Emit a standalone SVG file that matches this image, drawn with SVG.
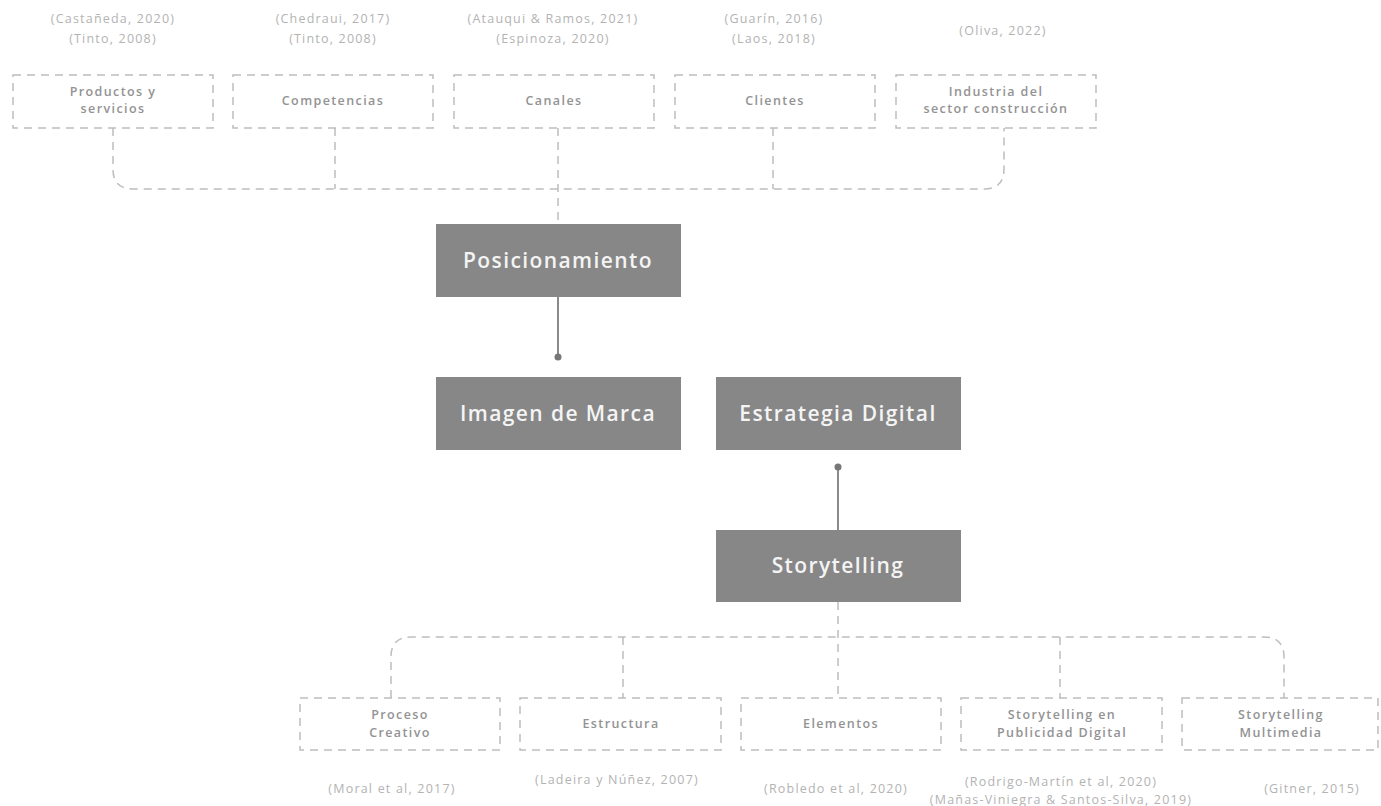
<svg xmlns="http://www.w3.org/2000/svg" width="1381" height="806" viewBox="0 0 1381 806">
<style>
.cite{font-family:"Open Sans","Liberation Sans",sans-serif;font-size:12.5px;fill:#b3b3b3;text-anchor:middle;letter-spacing:1.2px}
.dbox{fill:#fff;stroke:#bdbdbd;stroke-width:1.5;stroke-dasharray:8 6}
.dlab{font-family:"Open Sans","Liberation Sans",sans-serif;font-size:12.5px;fill:#939393;text-anchor:middle;font-weight:600;letter-spacing:1.4px}
.sbox{fill:#878787}
.slab{font-family:"Open Sans","Liberation Sans",sans-serif;font-size:21px;fill:#f4f4f4;text-anchor:middle;font-weight:600;letter-spacing:1.4px}
.dash{fill:none;stroke:#bdbdbd;stroke-width:1.5;stroke-dasharray:8 6}
.solid{fill:none;stroke:#8a8a8a;stroke-width:2}
.dot{fill:#777}
</style>
<rect width="1381" height="806" fill="#fff"/>
<g id="connectors">
<path class="dash" d="M113,128 V169 Q113,189 133,189 H984 Q1004,189 1004,169 V128"/>
<path class="dash" d="M335,128 V189"/>
<path class="dash" d="M558,128 V224"/>
<path class="dash" d="M773,128 V189"/>
<path class="solid" d="M558,297 V357"/>
<circle class="dot" cx="558" cy="357" r="3.5"/>
<path class="solid" d="M838,467 V530"/>
<circle class="dot" cx="838" cy="467" r="3.5"/>
<path class="dash" d="M391,698 V657 Q391,637 411,637 H1264 Q1284,637 1284,657 V698"/>
<path class="dash" d="M623,637 V698"/>
<path class="dash" d="M838,602 V698"/>
<path class="dash" d="M1060,637 V698"/>
</g>
<g id="cite-top">
<text class="cite" x="113" y="23">(Castañeda, 2020)</text>
<text class="cite" x="113" y="43">(Tinto, 2008)</text>
<text class="cite" x="333" y="23">(Chedraui, 2017)</text>
<text class="cite" x="333" y="43">(Tinto, 2008)</text>
<text class="cite" x="553" y="23">(Atauqui &amp; Ramos, 2021)</text>
<text class="cite" x="553" y="43">(Espinoza, 2020)</text>
<text class="cite" x="774" y="23">(Guarín, 2016)</text>
<text class="cite" x="774" y="43">(Laos, 2018)</text>
<text class="cite" x="1003" y="35">(Oliva, 2022)</text>
</g>
<g id="n-productos"><rect class="dbox" x="13" y="75" width="200" height="53"/><text class="dlab" x="113" y="96">Productos y</text><text class="dlab" x="113" y="113">servicios</text></g>
<g id="n-competencias"><rect class="dbox" x="233" y="75" width="200" height="53"/><text class="dlab" x="333" y="105">Competencias</text></g>
<g id="n-canales"><rect class="dbox" x="454" y="75" width="200" height="53"/><text class="dlab" x="554" y="105">Canales</text></g>
<g id="n-clientes"><rect class="dbox" x="675" y="75" width="200" height="53"/><text class="dlab" x="775" y="105">Clientes</text></g>
<g id="n-industria"><rect class="dbox" x="896" y="75" width="200" height="53"/><text class="dlab" x="996" y="96">Industria del</text><text class="dlab" x="996" y="113">sector construcción</text></g>
<g id="n-posicionamiento"><rect class="sbox" x="436" y="224" width="245" height="73"/><text class="slab" x="558" y="268">Posicionamiento</text></g>
<g id="n-imagen"><rect class="sbox" x="436" y="377" width="245" height="73"/><text class="slab" x="558" y="421">Imagen de Marca</text></g>
<g id="n-estrategia"><rect class="sbox" x="716" y="377" width="245" height="73"/><text class="slab" x="838" y="421">Estrategia Digital</text></g>
<g id="n-storytelling"><rect class="sbox" x="716" y="530" width="245" height="72"/><text class="slab" x="838" y="573">Storytelling</text></g>
<g id="n-proceso"><rect class="dbox" x="300" y="698" width="200" height="52"/><text class="dlab" x="400" y="719">Proceso</text><text class="dlab" x="400" y="737">Creativo</text></g>
<g id="n-estructura"><rect class="dbox" x="520" y="698" width="201" height="52"/><text class="dlab" x="621" y="728">Estructura</text></g>
<g id="n-elementos"><rect class="dbox" x="741" y="698" width="200" height="52"/><text class="dlab" x="841" y="728">Elementos</text></g>
<g id="n-publicidad"><rect class="dbox" x="961" y="698" width="201" height="52"/><text class="dlab" x="1062" y="719">Storytelling en</text><text class="dlab" x="1062" y="737">Publicidad Digital</text></g>
<g id="n-multimedia"><rect class="dbox" x="1182" y="698" width="196" height="52"/><text class="dlab" x="1281" y="719">Storytelling</text><text class="dlab" x="1281" y="737">Multimedia</text></g>
<g id="cite-bottom">
<text class="cite" x="392" y="793">(Moral et al, 2017)</text>
<text class="cite" x="617" y="784">(Ladeira y Núñez, 2007)</text>
<text class="cite" x="836" y="793">(Robledo et al, 2020)</text>
<text class="cite" x="1061" y="786">(Rodrigo-Martín et al, 2020)</text>
<text class="cite" x="1061" y="804">(Mañas-Viniegra &amp; Santos-Silva, 2019)</text>
<text class="cite" x="1312" y="793">(Gitner, 2015)</text>
</g>
</svg>
